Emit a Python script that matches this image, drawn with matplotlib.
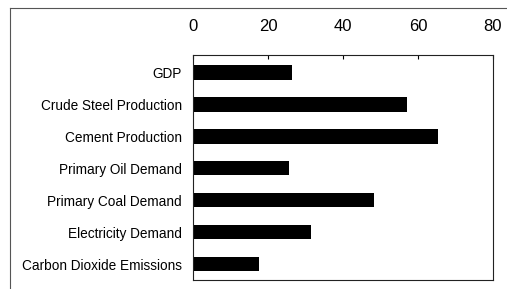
import numpy as np
import matplotlib.pyplot as plt
from matplotlib.lines import Line2D

plt.rcParams['font.family'] = ['Liberation Sans', 'DejaVu Sans']

# categories listed top to bottom
categories = [
    "GDP",
    "Crude Steel Production",
    "Cement Production",
    "Primary Oil Demand",
    "Primary Coal Demand",
    "Electricity Demand",
    "Carbon Dioxide Emissions",
]
values = [26.3, 57.1, 65.3, 25.5, 48.3, 31.5, 17.6]
xticks = [0, 20, 40, 60, 80]

fig = plt.figure(figsize=(5.07, 2.89), dpi=100)
ax = fig.add_axes([0.381, 0.031, 0.591, 0.779])

ypos = np.arange(len(categories))[::-1]
ax.barh(ypos, values, height=0.45, color="black")

ax.set_xlim(0, 80)
ax.set_ylim(-0.5, 6.55)
ax.set_xticks(xticks)
ax.xaxis.tick_top()
ax.tick_params(axis="x", direction="in", length=3, pad=15, labelsize=12, width=0.8)
ax.set_yticks(ypos)
ax.set_yticklabels(categories)
ax.tick_params(axis="y", length=0, pad=8, labelsize=9.8)
for s in ax.spines.values():
    s.set_linewidth(0.8)
    s.set_color("#222222")

# outer frame (top and left edges visible in the scan)
fig.add_artist(Line2D([10 / 507, 1.0], [1 - 8 / 289, 1 - 8 / 289],
                      transform=fig.transFigure, color="#555555", lw=0.8))
fig.add_artist(Line2D([10 / 507, 10 / 507], [0.0, 1 - 8 / 289],
                      transform=fig.transFigure, color="#555555", lw=0.8))

fig.savefig("out.png", dpi=100)
